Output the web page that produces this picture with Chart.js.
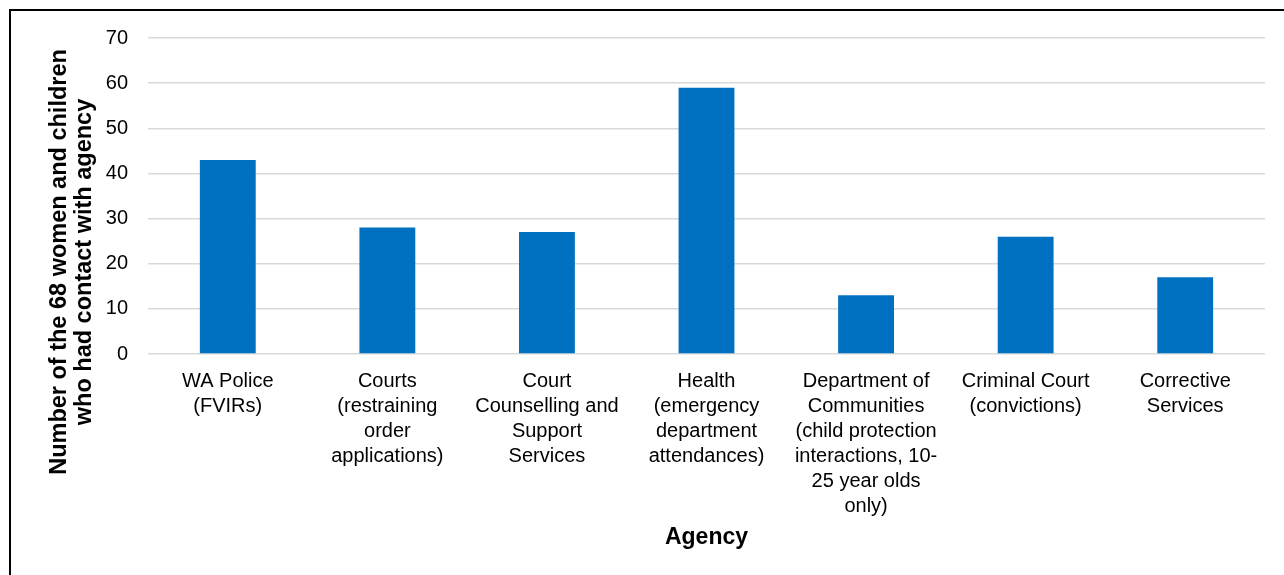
<!DOCTYPE html>
<html>
<head>
<meta charset="utf-8">
<script src="https://cdn.jsdelivr.net/npm/chart.js@4/dist/chart.umd.min.js"></script>
<style>
  html, body { margin: 0; padding: 0; background: #fff; overflow: hidden; }
  #frame { position: absolute; left: 9px; top: 9px; width: 1400px; height: 700px; border: 2px solid #000; }
  #wrap { position: absolute; left: 0; top: 0; width: 1284px; height: 575px; }
</style>
</head>
<body>
<div id="frame"></div>
<div id="wrap"><canvas id="agencyChart"></canvas></div>
<script>
const agencies = [
    ["WA Police", "(FVIRs)"],
    ["Courts", "(restraining", "order", "applications)"],
    ["Court", "Counselling and", "Support", "Services"],
    ["Health", "(emergency", "department", "attendances)"],
    ["Department of", "Communities", "(child protection", "interactions, 10-", "25 year olds", "only)"],
    ["Criminal Court", "(convictions)"],
    ["Corrective", "Services"]
];
const contacts = [43, 28, 27, 59, 13, 26, 17];
const yTitleLines = ["Number of the 68 women and children", "who had contact with agency"];
const xTitle = "Agency";

const fontName = "'Liberation Sans', Arial, sans-serif";

// titolo asse y disegnato a mano (Excel non lo centra sull'area del grafico)
const yTitlePlugin = {
    id: 'yTitle',
    afterDraw(chart) {
        const ctx = chart.ctx;
        ctx.save();
        ctx.translate(66, 262);
        ctx.rotate(-Math.PI / 2);
        ctx.font = "bold 23.5px " + fontName;
        ctx.fillStyle = '#000';
        ctx.textAlign = 'center';
        ctx.textBaseline = 'alphabetic';
        yTitleLines.forEach((line, i) => ctx.fillText(line, 0, i * 25));
        ctx.restore();
    }
};

const ctx = document.getElementById("agencyChart");

new Chart(ctx, {
    type: 'bar',
    data: {
        labels: agencies,
        datasets: [{
            label: 'Contacts',
            data: contacts,
            backgroundColor: '#0070c0',
            borderWidth: 0,
            categoryPercentage: 1,
            barPercentage: 0.35
        }]
    },
    options: {
        responsive: true,
        maintainAspectRatio: false,
        animation: false,
        layout: { padding: { left: 0, top: 38, right: 19, bottom: 24 } },
        plugins: {
            legend: { display: false },
            tooltip: { enabled: false }
        },
        scales: {
            x: {
                grid: { display: false },
                border: { display: false },
                ticks: {
                    color: '#000',
                    font: { family: fontName, size: 20, lineHeight: 1.25 },
                    padding: 7,
                    maxRotation: 0,
                    autoSkip: false
                },
                title: {
                    display: true,
                    text: xTitle,
                    color: '#000',
                    font: { family: fontName, size: 23, weight: 'bold', lineHeight: 1.2 },
                    padding: { top: 0, bottom: 0 }
                },
                afterFit(scale) { scale.height = 197; }
            },
            y: {
                min: 0,
                max: 70,
                ticks: {
                    stepSize: 10,
                    color: '#000',
                    font: { family: fontName, size: 20 },
                    padding: 20
                },
                grid: { color: '#d9d9d9', lineWidth: 1.5, drawTicks: false },
                border: { display: false },
                afterFit(scale) { scale.width = 148; }
            }
        }
    },
    plugins: [yTitlePlugin]
});
</script>
</body>
</html>
